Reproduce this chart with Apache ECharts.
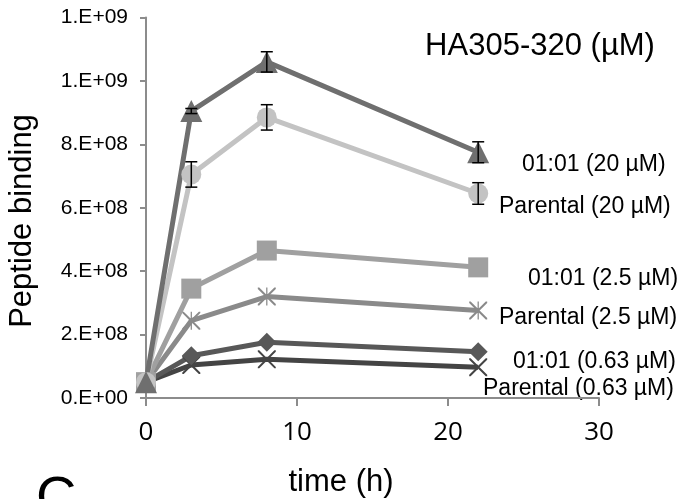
<!DOCTYPE html>
<html>
<head>
<meta charset="utf-8">
<script src="https://cdn.jsdelivr.net/npm/echarts@6/dist/echarts.min.js"></script>
<style>
  html, body { margin: 0; padding: 0; background: #fff; }
  #chart { width: 685px; height: 499px; }
</style>
</head>
<body>
<div id="chart"></div>
<script>
// time points (h)
const times = [0, 3, 8, 22]

// peptide binding per line
const dr20 = [5.0e7, 9.05e8, 1.06e9, 7.75e8]
const par20 = [5.0e7, 7.05e8, 8.85e8, 6.45e8]
const dr25 = [5.0e7, 3.45e8, 4.65e8, 4.12e8]
const par25 = [5.0e7, 2.44e8, 3.2e8, 2.76e8]
const dr063 = [5.0e7, 1.33e8, 1.76e8, 1.46e8]
const par063 = [5.0e7, 1.04e8, 1.22e8, 0.97e8]

// error bars (only the 20 uM lines show visible ones)
const dr20Err = [0, 8e6, 3.2e7, 3.3e7]
const par20Err = [0, 4.0e7, 4.0e7, 3.4e7]

const yTickLabels = ['0.E+00', '2.E+08', '4.E+08', '6.E+08', '8.E+08', '1.E+09', '1.E+09']
const seriesLabels = [
  '01:01 (20 µM)', 'Parental (20 µM)',
  '01:01 (2.5 µM)', 'Parental (2.5 µM)',
  '01:01 (0.63 µM)', 'Parental (0.63 µM)'
]

const FONT = 'Liberation Sans, Arial, sans-serif'
const xPath = 'path://M0,0 L1.6,0 L10,8.4 L18.4,0 L20,0 L20,1.6 L11.6,10 L20,18.4 L20,20 L18.4,20 L10,11.6 L1.6,20 L0,20 L0,18.4 L8.4,10 L0,1.6 Z'
const starPath = 'path://M0,0 L1.6,0 L10,8.4 L18.4,0 L20,0 L20,1.6 L11.6,10 L20,18.4 L20,20 L18.4,20 L10,11.6 L1.6,20 L0,20 L0,18.4 L8.4,10 L0,1.6 Z M9.3,0 L10.7,0 L10.7,20 L9.3,20 Z'

function pairs(vals) {
  return times.map((t, i) => [t, vals[i]])
}

function errData(vals, errs) {
  const out = []
  for (let i = 0; i < times.length; i++) {
    if (errs[i] > 0) out.push([times[i], vals[i], errs[i]])
  }
  return out
}

function lineSeries(name, vals, color, symbol, size) {
  return {
    name: name,
    type: 'line',
    data: pairs(vals),
    symbol: symbol,
    symbolSize: size,
    showAllSymbol: true,
    lineStyle: { color: color, width: 5 },
    itemStyle: { color: color, opacity: 1 },
    emphasis: { disabled: true }
  }
}

function errSeries(data) {
  return {
    type: 'custom',
    data: data,
    z: 5,
    renderItem: function (params, api) {
      const x = api.value(0)
      const v = api.value(1)
      const e = api.value(2)
      const hi = api.coord([x, v + e])
      const lo = api.coord([x, v - e])
      const w = 6
      const st = { stroke: '#000', lineWidth: 1.5 }
      return {
        type: 'group',
        children: [
          { type: 'line', shape: { x1: hi[0], y1: hi[1], x2: lo[0], y2: lo[1] }, style: st },
          { type: 'line', shape: { x1: hi[0] - w, y1: hi[1], x2: hi[0] + w, y2: hi[1] }, style: st },
          { type: 'line', shape: { x1: lo[0] - w, y1: lo[1], x2: lo[0] + w, y2: lo[1] }, style: st }
        ]
      }
    }
  }
}

const chart = echarts.init(document.getElementById('chart'))

chart.setOption({
  animation: false,
  grid: { left: 146, right: 86, top: 17.5, bottom: 101 },
  xAxis: {
    type: 'value',
    min: 0,
    max: 30,
    interval: 10,
    axisLine: { show: true, onZero: false, lineStyle: { color: '#8c8c8c', width: 2 } },
    axisTick: { show: true, length: 8, lineStyle: { color: '#8c8c8c', width: 2 } },
    splitLine: { show: false },
    axisLabel: { color: '#000', fontSize: 26, fontFamily: 'Open Sans, sans-serif', margin: 22 }
  },
  yAxis: {
    type: 'value',
    min: 0,
    max: 1.2e9,
    interval: 2e8,
    axisLine: { show: true, lineStyle: { color: '#8c8c8c', width: 2 } },
    axisTick: { show: true, length: 6, lineStyle: { color: '#8c8c8c', width: 2 } },
    splitLine: { show: false },
    axisLabel: {
      color: '#000',
      fontSize: 21,
      fontFamily: FONT,
      margin: 18,
      formatter: function (v) {
        return yTickLabels[Math.round(v / 2e8)]
      }
    }
  },
  series: [
    lineSeries('Parental (0.63 µM)', par063, '#444444', xPath, 18),
    lineSeries('01:01 (0.63 µM)', dr063, '#585858', 'diamond', 19),
    lineSeries('Parental (2.5 µM)', par25, '#8a8a8a', starPath, 18),
    lineSeries('01:01 (2.5 µM)', dr25, '#a0a0a0', 'rect', 20),
    lineSeries('Parental (20 µM)', par20, '#c3c3c3', 'circle', 20),
    lineSeries('01:01 (20 µM)', dr20, '#6f6f6f', 'triangle', 22),
    errSeries(errData(par20, par20Err)),
    errSeries(errData(dr20, dr20Err))
  ],
  graphic: [
    { type: 'text', x: 540, y: 46, style: { text: 'HA305-320 (µM)', font: '31px ' + FONT, fill: '#000', textAlign: 'center', textVerticalAlign: 'middle' } },
    { type: 'text', x: 522, y: 165, style: { text: seriesLabels[0], font: '23px ' + FONT, fill: '#000', textVerticalAlign: 'middle' } },
    { type: 'text', x: 499, y: 207, style: { text: seriesLabels[1], font: '23px ' + FONT, fill: '#000', textVerticalAlign: 'middle' } },
    { type: 'text', x: 528, y: 279, style: { text: seriesLabels[2], font: '23px ' + FONT, fill: '#000', textVerticalAlign: 'middle' } },
    { type: 'text', x: 499, y: 318, style: { text: seriesLabels[3], font: '23px ' + FONT, fill: '#000', textVerticalAlign: 'middle' } },
    { type: 'text', x: 513, y: 362, style: { text: seriesLabels[4], font: '23px ' + FONT, fill: '#000', textVerticalAlign: 'middle' } },
    { type: 'text', x: 483, y: 389, style: { text: seriesLabels[5], font: '23px ' + FONT, fill: '#000', textVerticalAlign: 'middle' } },
    { type: 'text', x: 341, y: 482, style: { text: 'time (h)', font: '31px ' + FONT, fill: '#000', textAlign: 'center', textVerticalAlign: 'middle' } },
    { type: 'text', x: 22, y: 221, rotation: Math.PI / 2, style: { text: 'Peptide binding', font: '31px ' + FONT, fill: '#000', textAlign: 'center', textVerticalAlign: 'middle' } },
    { type: 'text', left: 36, top: 472, style: { text: 'C', font: '56px ' + FONT, fill: '#000' } }
  ]
})
</script>
</body>
</html>
